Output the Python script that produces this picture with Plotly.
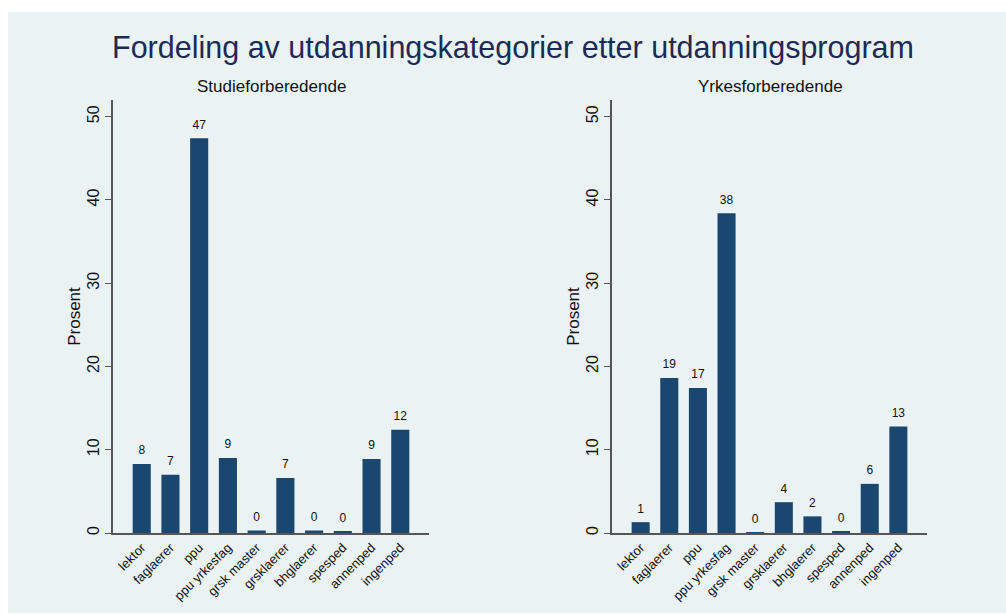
import plotly.graph_objects as go
from plotly.subplots import make_subplots

W, H = 1006, 615

categories = ["lektor", "faglaerer", "ppu", "ppu yrkesfag", "grsk master",
              "grsklaerer", "bhglaerer", "spesped", "annenped", "ingenped"]
studie_pct = [8.3, 7.0, 47.4, 9.0, 0.3, 6.6, 0.3, 0.2, 8.9, 12.4]
yrkes_pct = [1.3, 18.6, 17.4, 38.4, 0.1, 3.7, 2.0, 0.2, 5.9, 12.8]
y_ticks = [0, 10, 20, 30, 40, 50]

BAR = "#1a476f"
BG = "#eaf2f3"
AXIS = "#555555"
FONT = "Liberation Sans, Arial, sans-serif"


def px_x(p):
    return p / W


def px_y(p):
    return 1 - p / H


fig = make_subplots(rows=1, cols=2)

for col, vals in ((1, studie_pct), (2, yrkes_pct)):
    fig.add_trace(
        go.Bar(x=categories, y=vals, marker_color=BAR, marker_line_width=0,
               showlegend=False, hoverinfo="x+y"),
        row=1, col=col,
    )
    # value labels above the bars (invisible markers give the gap)
    fig.add_trace(
        go.Scatter(x=categories, y=vals, mode="markers+text",
                   texttemplate="%{y:.0f}", textposition="top center",
                   textfont=dict(size=12, color="#111111"),
                   marker=dict(size=9, opacity=0), cliponaxis=False,
                   showlegend=False, hoverinfo="skip"),
        row=1, col=col,
    )

fig.update_layout(
    width=W, height=H,
    margin=dict(l=0, r=0, t=0, b=0),
    paper_bgcolor="white", plot_bgcolor="white",
    font=dict(family=FONT, color="#111111"),
    bargap=0.37,
    title=dict(text="Fordeling av utdanningskategorier etter utdanningsprogram",
               x=513 / W, xanchor="center", y=px_y(47), yanchor="middle",
               font=dict(size=30.5, color="#1c2b55")),
    shapes=[dict(type="rect", xref="paper", yref="paper", layer="below",
                 x0=px_x(8), x1=1, y0=px_y(613), y1=px_y(12),
                 fillcolor=BG, line_width=0)],
    annotations=[
        dict(text="Studieforberedende", x=px_x(271), y=px_y(86), xref="paper", yref="paper",
             xanchor="center", yanchor="middle", showarrow=False,
             font=dict(size=17, color="#111111")),
        dict(text="Yrkesforberedende", x=px_x(770), y=px_y(86), xref="paper", yref="paper",
             xanchor="center", yanchor="middle", showarrow=False,
             font=dict(size=17, color="#111111")),
    ],
)

doms = {1: [px_x(113), px_x(429)], 2: [px_x(612), px_x(927)]}
for col in (1, 2):
    fig.update_xaxes(
        domain=doms[col], range=[-1, 10], tickangle=-45, automargin=False,
        showline=True, linecolor=AXIS, linewidth=2, ticks="", showgrid=False,
        tickfont=dict(size=13), row=1, col=col,
    )
    fig.update_yaxes(
        domain=[px_y(533), px_y(100)], range=[0, 52], tickvals=y_ticks,
        tickangle=-90, automargin=False, showline=True, linecolor=AXIS, linewidth=2,
        ticks="outside", ticklen=6, tickcolor=AXIS, tickfont=dict(size=16),
        showgrid=True, gridcolor=BG, gridwidth=1, zeroline=False,
        title=dict(text="Prosent", font=dict(size=17), standoff=0),
        row=1, col=col,
    )

# the page's default body margin would shift the figure by 8px
fig.write_html("out.html", config={"displayModeBar": False},
               post_script="document.body.style.margin='0px';")
